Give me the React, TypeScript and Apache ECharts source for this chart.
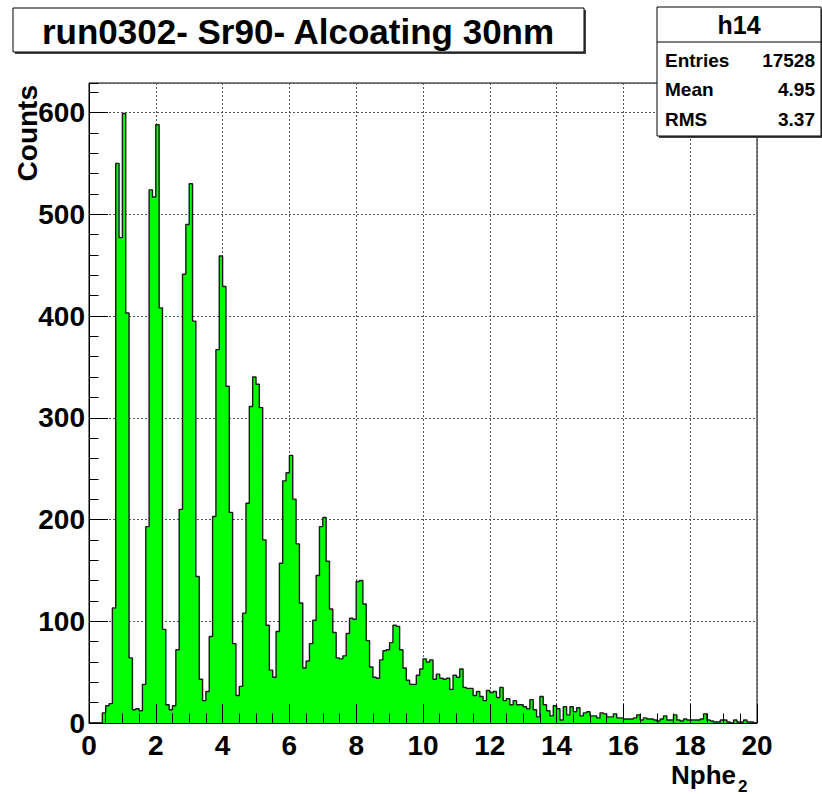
import React, { useEffect, useRef } from "react";
import * as echarts from "echarts";

// Histogram h14: 200 bins of width 0.1 from 0 to 20
const BIN_WIDTH = 0.1;
const X_MIN = 0;
const X_MAX = 20;
const Y_MAX = 629;

const countsA = [
  0, 0, 0, 0, 10, 17, 19, 113, 550, 477,
  599, 403, 64, 13, 14, 12, 38, 193, 524, 517,
  588, 408, 92, 18, 13, 17, 72, 210, 441, 490,
  530, 395, 144, 43, 22, 31, 85, 203, 367, 459,
  429, 331, 207, 78, 27, 36, 108, 216, 311, 340,
];
const countsB = [
  333, 310, 180, 96, 52, 45, 90, 157, 238, 246,
  263, 220, 176, 118, 54, 61, 78, 101, 145, 193,
  202, 159, 112, 89, 64, 63, 66, 88, 103, 102,
  139, 140, 117, 81, 55, 45, 44, 62, 71, 72,
  79, 96, 95, 72, 54, 42, 38, 38, 47, 53,
];
const countsC = [
  63, 60, 62, 43, 48, 44, 43, 44, 33, 47,
  45, 53, 35, 34, 34, 27, 31, 26, 22, 32,
  30, 31, 25, 35, 22, 24, 18, 22, 18, 18,
  16, 14, 23, 13, 6, 26, 18, 12, 7, 17,
  14, 3, 16, 8, 16, 11, 15, 7, 10, 11,
];
const countsD = [
  7, 7, 5, 10, 9, 6, 6, 9, 5, 5,
  4, 4, 4, 5, 8, 3, 5, 4, 4, 3,
  2, 4, 7, 3, 3, 8, 3, 2, 4, 3,
  3, 3, 3, 4, 9, 3, 2, 1, 1, 3,
  3, 1, 0, 3, 1, 1, 3, 1, 1, 0,
];

const TITLE = "run0302- Sr90- Alcoating 30nm";
const STATS_NAME = "h14";
const STATS_LABELS = ["Entries", "Mean", "RMS"];
const STATS_VALUES = ["17528", "4.95", "3.37"];
const X_TITLE = "Nphe";
const X_TITLE_SUB = "2";
const Y_TITLE = "Counts";

const FONT = '"Liberation Sans", Arial, Helvetica, sans-serif';

export default function App() {
  const ref = useRef<HTMLDivElement>(null);

  useEffect(() => {
    if (!ref.current) return;
    const chart = echarts.init(ref.current, undefined, { renderer: "svg" });

    const counts = [...countsA, ...countsB, ...countsC, ...countsD];
    const data: number[][] = counts.map((c, i) => [
      Number((X_MIN + i * BIN_WIDTH).toFixed(1)),
      c,
    ]);
    data.push([X_MAX, counts[counts.length - 1]]);

    const gridLine = { show: true, lineStyle: { color: "#555", width: 1, type: [2, 2] as any } };
    const black = { color: "#000", width: 1 };

    const statsX = 657;
    const statsW = 164;
    const statsRowsY = [60, 89, 119];

    const option: any = {
      animation: false,
      backgroundColor: "#fff",
      grid: {
        left: 89,
        top: 83,
        right: 65,
        bottom: 71,
        show: true,
        borderColor: "#000",
        borderWidth: 1,
        backgroundColor: "transparent",
      },
      xAxis: [
        {
          type: "value",
          min: X_MIN,
          max: X_MAX,
          interval: 2,
          z: 0,
          axisLine: { show: false },
          axisTick: { show: false },
          axisLabel: { show: false },
          splitLine: gridLine,
        },
        {
          type: "value",
          min: X_MIN,
          max: X_MAX,
          interval: 2,
          z: 5,
          position: "bottom",
          axisLine: { show: true, lineStyle: black },
          axisTick: { show: true, inside: true, length: 19, lineStyle: black },
          minorTick: { show: true, splitNumber: 4, length: 9.5, lineStyle: black },
          splitLine: { show: false },
          axisLabel: {
            show: true,
            fontSize: 28,
            fontWeight: "bold",
            fontFamily: FONT,
            color: "#000",
            margin: 9,
            lineHeight: 26,
            showMinLabel: true,
            showMaxLabel: true,
          },
        },
      ],
      yAxis: [
        {
          type: "value",
          min: 0,
          max: Y_MAX,
          interval: 100,
          z: 0,
          axisLine: { show: false },
          axisTick: { show: false },
          axisLabel: { show: false },
          splitLine: gridLine,
        },
        {
          type: "value",
          min: 0,
          max: Y_MAX,
          interval: 100,
          z: 5,
          position: "left",
          axisLine: { show: true, lineStyle: black },
          axisTick: { show: true, inside: true, length: 19, lineStyle: black },
          splitLine: { show: false },
          axisLabel: {
            show: true,
            fontSize: 28,
            fontWeight: "bold",
            fontFamily: FONT,
            color: "#000",
            margin: 4,
            showMaxLabel: false,
            formatter: (v: number) => (v % 100 === 0 ? String(v) : ""),
          },
        },
        {
          type: "value",
          min: 0,
          max: Y_MAX,
          interval: 20,
          z: 5,
          position: "left",
          axisLine: { show: false },
          axisTick: { show: true, inside: true, length: 9.5, lineStyle: black },
          splitLine: { show: false },
          axisLabel: { show: false },
        },
      ],
      series: [
        {
          type: "line",
          xAxisIndex: 0,
          yAxisIndex: 0,
          step: "end",
          data,
          symbol: "none",
          showSymbol: false,
          z: 2,
          lineStyle: { color: "#1a1a1a", width: 1.4 },
          areaStyle: { color: "#00ff00", opacity: 1 },
        },
      ],
      graphic: [
        // Title box with shadow
        { type: "rect", z: 10, shape: { x: 15, y: 10, width: 571, height: 44 }, style: { fill: "#444" } },
        {
          type: "rect",
          z: 11,
          shape: { x: 13, y: 8, width: 571, height: 44 },
          style: { fill: "#fff", stroke: "#000", lineWidth: 1 },
        },
        {
          type: "text",
          z: 12,
          x: 298,
          y: 31,
          style: {
            text: TITLE,
            fontSize: 35,
            fontWeight: "bold",
            fontFamily: FONT,
            fill: "#000",
            textAlign: "center",
            align: "center",
            textVerticalAlign: "middle",
            verticalAlign: "middle",
          },
        },
        // Stats box with shadow
        { type: "rect", z: 10, shape: { x: statsX + 2, y: 9, width: statsW, height: 129 }, style: { fill: "#444" } },
        {
          type: "rect",
          z: 11,
          shape: { x: statsX, y: 7, width: statsW, height: 129 },
          style: { fill: "#fff", stroke: "#000", lineWidth: 1 },
        },
        {
          type: "line",
          z: 12,
          shape: { x1: statsX, y1: 42, x2: statsX + statsW, y2: 42 },
          style: { stroke: "#000", lineWidth: 1 },
        },
        {
          type: "text",
          z: 12,
          x: statsX + statsW / 2,
          y: 25,
          style: {
            text: STATS_NAME,
            fontSize: 25,
            fontWeight: "bold",
            fontFamily: FONT,
            fill: "#000",
            textAlign: "center",
            align: "center",
            textVerticalAlign: "middle",
            verticalAlign: "middle",
          },
        },
        ...STATS_LABELS.map((label, i) => ({
          type: "text",
          z: 12,
          x: statsX + 8,
          y: statsRowsY[i],
          style: {
            text: label,
            fontSize: 19,
            fontWeight: "bold",
            fontFamily: FONT,
            fill: "#000",
            textAlign: "left",
            align: "left",
            textVerticalAlign: "middle",
            verticalAlign: "middle",
          },
        })),
        ...STATS_VALUES.map((val, i) => ({
          type: "text",
          z: 12,
          x: statsX + statsW - 6,
          y: statsRowsY[i],
          style: {
            text: val,
            fontSize: 19,
            fontWeight: "bold",
            fontFamily: FONT,
            fill: "#000",
            textAlign: "right",
            align: "right",
            textVerticalAlign: "middle",
            verticalAlign: "middle",
          },
        })),
        // Y axis title
        {
          type: "text",
          z: 12,
          x: 27,
          y: 85,
          rotation: Math.PI / 2,
          style: {
            text: Y_TITLE,
            fontSize: 28,
            fontWeight: "bold",
            fontFamily: FONT,
            fill: "#000",
            textAlign: "right",
            align: "right",
            textVerticalAlign: "middle",
            verticalAlign: "middle",
          },
        },
        // X axis title with subscript
        {
          type: "text",
          z: 12,
          x: 736,
          y: 775,
          style: {
            text: X_TITLE,
            fontSize: 26,
            lineHeight: 26,
            fontWeight: "bold",
            fontFamily: FONT,
            fill: "#000",
            textAlign: "right",
            align: "right",
            textVerticalAlign: "middle",
            verticalAlign: "middle",
          },
        },
        {
          type: "text",
          z: 12,
          x: 738,
          y: 786,
          style: {
            text: X_TITLE_SUB,
            fontSize: 17,
            fontWeight: "bold",
            fontFamily: FONT,
            fill: "#000",
            textAlign: "left",
            align: "left",
            textVerticalAlign: "middle",
            verticalAlign: "middle",
          },
        },
      ],
    };

    chart.setOption(option);
    return () => {
      chart.dispose();
    };
  }, []);

  return (
    <div
      ref={ref}
      style={{ position: "absolute", left: 0, top: 0, width: 822, height: 794, background: "#fff" }}
    />
  );
}
